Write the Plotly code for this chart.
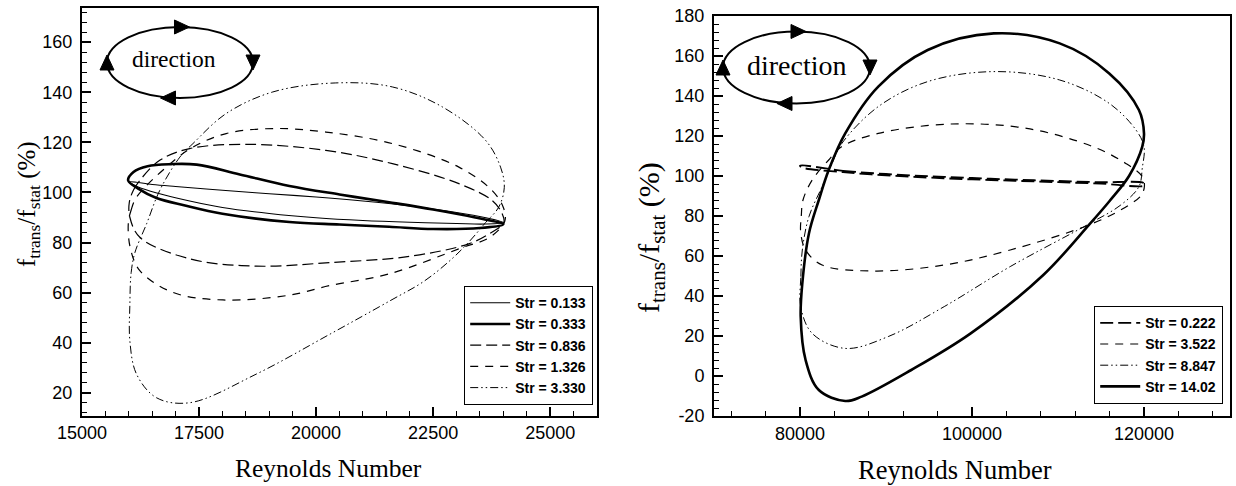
import plotly.graph_objects as go

W, H = 1236, 486

# ---------------- data ----------------
# Left panel: Reynolds 16000-24000
L_LABELS = ["Str = 0.133", "Str = 0.333", "Str = 0.836", "Str = 1.326", "Str = 3.330"]

re_0133 = [16000, 16500, 17000, 18000, 19000, 20000, 21000, 22000, 23000, 23600, 24000,
           23600, 23000, 22000, 21000, 20000, 19000, 18000, 17300, 16600, 16200, 16000]
f_0133 = [104.2, 103.2, 102.4, 100.9, 99.5, 98.2, 96.6, 94.6, 92.0, 90.0, 88.0,
          87.4, 87.6, 88.1, 88.8, 89.9, 91.6, 94.0, 96.6, 99.8, 102.2, 104.2]

re_0333 = [15985, 16100, 16400, 16900, 17450, 18370, 19430, 20500, 21560, 22500, 23400, 24000,
           23500, 22500, 21560, 20500, 19430, 18000, 17200, 16590, 16200, 15985]
f_0333 = [104.8, 108.2, 110.5, 111.3, 111.1, 107.2, 102.6, 99.2, 96.1, 93.2, 90.0, 87.3,
          85.8, 85.4, 86.3, 87.2, 88.2, 91.5, 94.8, 97.8, 101.5, 104.8]

re_0836 = [16010, 16100, 16235, 16660, 17300, 18510, 20210, 21630, 23050, 23760, 23975, 24010,
           23700, 23260, 22000, 20282, 18720, 17300, 16235, 16022, 16010]
f_0836 = [96.0, 101.0, 104.8, 112.8, 117.5, 119.2, 116.8, 111.5, 103.5, 96.8, 91.5, 88.0,
          83.5, 79.5, 74.5, 72.0, 70.6, 73.5, 82.1, 90.1, 96.0]

re_1326 = [15990, 16050, 16165, 16800, 17370, 18080, 19075, 20210, 21630, 23050, 23760, 24000, 24030,
           23700, 23120, 21560, 20282, 19430, 18010, 16945, 16235, 16030, 15990]
f_1326 = [88.0, 93.0, 98.1, 110.1, 118.1, 123.5, 125.5, 124.1, 119.5, 110.1, 100.8, 94.0, 88.5,
          82.0, 78.0, 67.5, 62.8, 59.0, 57.1, 60.1, 68.8, 78.0, 88.0]

re_3330 = [16022, 16050, 16130, 16380, 16660, 17090, 17370, 18080, 19075, 20420, 21630, 22700,
           23620, 23940, 24020, 23900, 23620, 23300, 22900, 22300, 21600, 20300, 18720, 17300,
           16590, 16165, 16022, 16022]
f_3330 = [55.0, 68.0, 76.0, 87.5, 100.8, 114.1, 119.5, 131.5, 140.1, 143.7, 142.1, 134.1,
          120.8, 110.1, 102.0, 94.1, 88.0, 81.0, 73.5, 64.5, 57.0, 43.5, 27.5, 16.1,
          18.1, 27.5, 40.8, 55.0]

# Right panel: Reynolds 80000-120000
R_LABELS = ["Str = 0.222", "Str = 3.522", "Str = 8.847", "Str = 14.02"]

re_0222 = [80000, 85000, 90000, 95000, 100000, 105000, 110000, 115000, 120000,
           120000, 115000, 110000, 105000, 100000, 95000, 90000, 85000, 80200, 80000]
f_0222 = [105.2, 102.6, 101.0, 99.9, 99.0, 98.2, 97.5, 96.9, 96.4,
          95.2, 96.2, 96.9, 97.6, 98.3, 99.2, 100.3, 101.9, 104.3, 105.2]

re_3522 = [80080, 80150, 80350, 81420, 83340, 84870, 89100, 97540, 106370, 114050, 117880,
           119800, 120050, 119700, 118260, 114050, 104440, 96770, 88500, 82570, 80650, 80080]
f_3522 = [72.0, 80.0, 88.0, 98.0, 108.0, 114.7, 121.3, 126.0, 123.8, 114.7, 106.3,
          99.7, 95.0, 90.5, 85.5, 76.3, 63.0, 55.5, 52.5, 55.5, 63.0, 72.0]

re_8847 = [80080, 80100, 80270, 81040, 82570, 83720, 84870, 89100, 94850, 102530, 110200,
           115960, 119070, 120000, 119800, 119410, 117300, 113700, 104440, 96770, 90250,
           85260, 81420, 80080]
f_8847 = [34.7, 49.7, 63.0, 79.7, 94.7, 106.3, 116.3, 134.7, 147.2, 152.2, 148.0,
          136.3, 123.0, 114.7, 104.0, 94.7, 85.5, 76.3, 54.7, 34.7, 19.7,
          13.8, 21.3, 34.7]

re_1402 = [80080, 80270, 81040, 82190, 83340, 85260, 89100, 94850, 102530, 110200, 115960,
           119410, 120000, 119800, 118260, 116000, 113650, 108290, 99850, 92940, 87170,
           85260, 82190, 80650, 80080]
f_1402 = [29.7, 46.3, 71.3, 88.0, 103.0, 121.3, 144.7, 163.0, 171.3, 166.3, 151.3,
          133.0, 121.3, 114.7, 100.0, 87.5, 75.8, 50.5, 21.3, 3.0, -10.3,
          -12.5, -7.0, 8.0, 29.7]

# tick labels
L_XTICKS = [15000, 17500, 20000, 22500, 25000]
L_YTICKS = [20, 40, 60, 80, 100, 120, 140, 160]
R_XTICKS = [80000, 100000, 120000]
R_YTICKS = [-20, 0, 20, 40, 60, 80, 100, 120, 140, 160, 180]

# ---------------- figure ----------------
SERIF = "Liberation Serif, Times New Roman, serif"
SANS = "Liberation Sans, Arial, sans-serif"

def px(x):
    return x / W

def py(y):
    return 1 - y / H

fig = go.Figure()

left_series = [
    (re_0133, f_0133, dict(width=1.1, color="black", dash="solid")),
    (re_0333, f_0333, dict(width=2.6, color="black", dash="solid")),
    (re_0836, f_0836, dict(width=1.2, color="black", dash="11px,5px")),
    (re_1326, f_1326, dict(width=1.2, color="black", dash="8px,7px")),
    (re_3330, f_3330, dict(width=1.0, color="black", dash="8px,3px,1.5px,3px,1.5px,3px")),
]
for (xs, ys, ln), name in zip(left_series, L_LABELS):
    fig.add_trace(go.Scatter(x=xs, y=ys, mode="lines", name=name, line=dict(shape="spline", smoothing=1.0, **ln),
                             xaxis="x", yaxis="y", legend="legend", hoverinfo="skip"))

right_series = [
    (re_0222, f_0222, dict(width=1.8, color="black", dash="13px,5px")),
    (re_3522, f_3522, dict(width=1.2, color="black", dash="8px,7px")),
    (re_8847, f_8847, dict(width=1.0, color="black", dash="8px,3px,1.5px,3px,1.5px,3px")),
    (re_1402, f_1402, dict(width=2.6, color="black", dash="solid")),
]
for (xs, ys, ln), name in zip(right_series, R_LABELS):
    fig.add_trace(go.Scatter(x=xs, y=ys, mode="lines", name=name, line=dict(shape="spline", smoothing=1.0, **ln),
                             xaxis="x2", yaxis="y2", legend="legend2", hoverinfo="skip"))

def xax(domain, rng, ticks, minor_dt, anchor, fsize):
    return dict(domain=domain, range=rng, tickmode="array", tickvals=ticks, ticktext=[str(t) for t in ticks],
                ticks="inside", ticklen=9, tickwidth=1.5, tickcolor="black",
                minor=dict(tickmode="linear", dtick=minor_dt, tick0=0, ticks="inside", ticklen=5,
                           tickwidth=1, tickcolor="black", showgrid=False),
                showline=True, linewidth=2, linecolor="black", mirror=True, automargin=False,
                showgrid=False, zeroline=False, tickfont=dict(family=SANS, size=fsize, color="black"),
                anchor=anchor, fixedrange=True)

def yax(domain, rng, ticks, minor_dt, anchor, fsize):
    return dict(domain=domain, range=rng, tickmode="array", tickvals=ticks,
                ticktext=[str(t) for t in ticks],
                ticks="inside", ticklen=9, tickwidth=1.5, tickcolor="black",
                minor=dict(tickmode="linear", dtick=minor_dt, tick0=0, ticks="inside", ticklen=5,
                           tickwidth=1, tickcolor="black", showgrid=False),
                showline=True, linewidth=2, linecolor="black", mirror=True, automargin=False,
                showgrid=False, zeroline=False, tickfont=dict(family=SANS, size=fsize, color="black"),
                anchor=anchor, fixedrange=True, ticklabelstandoff=4)

legend_common = dict(bgcolor="white", bordercolor="black", borderwidth=1.2,
                     font=dict(family=SANS, size=14, color="black", weight="bold"),
                     tracegroupgap=0, itemclick=False, itemdoubleclick=False, itemwidth=40)

fig.update_layout(
    width=W, height=H, autosize=False,
    margin=dict(l=0, r=0, t=0, b=0, pad=0, autoexpand=False),
    paper_bgcolor="white", plot_bgcolor="white",
    xaxis=xax([px(82), px(597)], [15000, 26000], L_XTICKS, 500, "y", 18),
    yaxis=yax([py(415.5), py(8)], [11, 173.6], L_YTICKS, 4, "x", 18),
    xaxis2=xax([px(714), px(1230)], [70000, 130000], R_XTICKS, 4000, "y2", 18),
    yaxis2=yax([py(416), py(16)], [-20, 180], R_YTICKS, 4, "x2", 18),
    legend=dict(x=px(593), xanchor="right", y=py(405), yanchor="bottom", **legend_common),
    legend2=dict(x=px(1223), xanchor="right", y=py(404), yanchor="bottom", **legend_common),
)

# axis titles
ytitle = "f<sub>trans</sub>/f<sub>stat</sub> (%)"
for cx, cy, fs in [(28, 204, 25), (651, 238, 30)]:
    fig.add_annotation(text=ytitle, x=px(cx), y=py(cy), xref="paper", yref="paper",
                       textangle=-90, showarrow=False, xanchor="center", yanchor="middle",
                       font=dict(family=SERIF, size=fs, color="black"))
for cx, cy, fs in [(329, 468, 25.5), (955, 470, 26.5)]:
    fig.add_annotation(text="Reynolds Number", x=px(cx), y=py(cy), xref="paper", yref="paper",
                       showarrow=False, xanchor="center", yanchor="middle",
                       font=dict(family=SERIF, size=fs, color="black"))

# "direction" icons (ellipse with four arrow heads)
def direction_icon(cx, cy, rx, ry, tx, ty, fs):
    fig.add_shape(type="circle", xref="paper", yref="paper",
                  x0=px(cx - rx), x1=px(cx + rx), y0=py(cy + ry), y1=py(cy - ry),
                  line=dict(color="black", width=2))
    L, hw = 15, 7
    tris = [
        [(cx + 2 + L / 2, cy - ry), (cx + 2 - L / 2, cy - ry - hw), (cx + 2 - L / 2, cy - ry + hw)],  # right
        [(cx + rx, cy + L / 2), (cx + rx - hw, cy - L / 2), (cx + rx + hw, cy - L / 2)],            # down
        [(cx - 12 - L / 2, cy + ry), (cx - 12 + L / 2, cy + ry - hw), (cx - 12 + L / 2, cy + ry + hw)],  # left
        [(cx - rx, cy - L / 2), (cx - rx - hw, cy + L / 2), (cx - rx + hw, cy + L / 2)],            # up
    ]
    for t in tris:
        path = "M " + " L ".join(f"{px(a):.5f},{py(b):.5f}" for a, b in t) + " Z"
        fig.add_shape(type="path", xref="paper", yref="paper", path=path,
                      fillcolor="black", line=dict(color="black", width=1))
    fig.add_annotation(text="direction", x=px(tx), y=py(ty), xref="paper", yref="paper",
                       showarrow=False, xanchor="center", yanchor="middle",
                       font=dict(family=SERIF, size=fs, color="black"))

direction_icon(180, 62.5, 73, 35.5, 174, 59, 23.5)
direction_icon(796.5, 67.5, 73.5, 36, 797, 66, 28)

fig.write_html(
    "out.html",
    config={"displayModeBar": False},
    post_script="document.body.style.margin='0px';document.body.style.padding='0px';"
                "document.documentElement.style.overflow='hidden';",
)
